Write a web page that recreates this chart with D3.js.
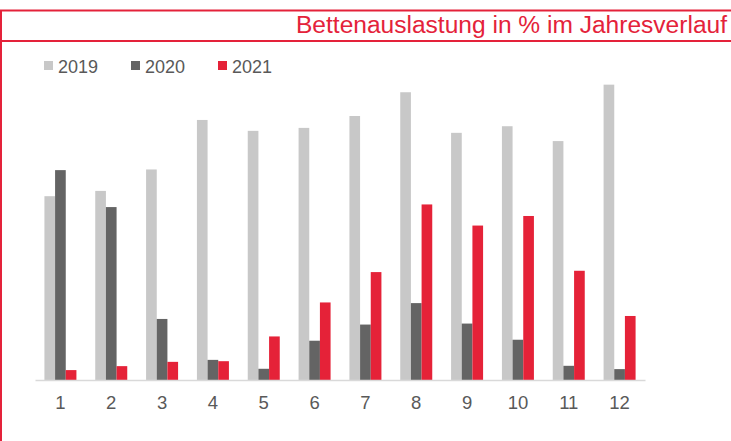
<!DOCTYPE html>
<html lang="de">
<head>
<meta charset="UTF-8">
<title>Bettenauslastung</title>
<script src="https://d3js.org/d3.v7.min.js"></script>
<style>
  html, body { margin: 0; padding: 0; background: #fff; }
  body { font-family: 'Liberation Sans', Arial, sans-serif; }
  svg { display: block; }
</style>
</head>
<body>
<div id="chart"></div>
<script>
// Monate und Werte (Bettenauslastung in %, aus dem Bild geschätzt)
const months = ["1", "2", "3", "4", "5", "6", "7", "8", "9", "10", "11", "12"];
const seriesNames = ["2019", "2020", "2021"];
const values2019 = [55.7, 57.3, 63.8, 78.8, 75.5, 76.4, 80.0, 87.2, 74.9, 76.9, 72.4, 89.5];
const values2020 = [63.6, 52.4, 18.5, 6.1, 3.4, 11.9, 16.8, 23.3, 17.1, 12.2, 4.3, 3.3];
const values2021 = [3.0, 4.2, 5.5, 5.7, 13.2, 23.5, 32.7, 53.2, 46.8, 49.7, 33.1, 19.4];
const colors = ["#c8c8c8", "#646464", "#e52238"];

const W = 731, H = 441;
const red = "#e4223a";
const svg = d3.select("#chart").append("svg").attr("width", W).attr("height", H);

// Rahmen: zwei rote Linien oben, eine links
svg.append("line").attr("x1", 0).attr("x2", W).attr("y1", 10.5).attr("y2", 10.5)
  .attr("stroke", red).attr("stroke-width", 2);
svg.append("line").attr("x1", 0).attr("x2", W).attr("y1", 41).attr("y2", 41)
  .attr("stroke", red).attr("stroke-width", 2);
svg.append("line").attr("x1", 1).attr("x2", 1).attr("y1", 10).attr("y2", H)
  .attr("stroke", red).attr("stroke-width", 2);

svg.append("text").attr("x", 727).attr("y", 33).attr("text-anchor", "end")
  .attr("fill", red).style("font-size", "23.5px")
  .attr("textLength", 431).attr("lengthAdjust", "spacingAndGlyphs")
  .text("Bettenauslastung in % im Jahresverlauf");

// Plot
const plotLeft = 35, plotRight = 645, plotBase = 380, plotTop = 50;
const x = d3.scaleBand().domain(months).range([plotLeft, plotRight]).paddingInner(0).paddingOuter(0);
const y = d3.scaleLinear().domain([0, 100]).range([plotBase, plotTop]);
const groupW = 32;
const x1 = d3.scaleBand().domain(seriesNames).range([0, groupW]);

const data = months.map((m, i) => ({
  month: m,
  vals: [values2019[i], values2020[i], values2021[i]]
}));

const groups = svg.append("g").selectAll("g").data(data).join("g")
  .attr("transform", d => `translate(${x(d.month) + (x.bandwidth() - groupW) / 2},0)`);

groups.selectAll("rect")
  .data(d => d.vals.map((v, k) => ({ name: seriesNames[k], v, k })))
  .join("rect")
  .attr("x", d => x1(d.name))
  .attr("width", x1.bandwidth())
  .attr("y", d => y(d.v))
  .attr("height", d => plotBase - y(d.v))
  .attr("fill", d => colors[d.k]);

// Achse
const xAxis = svg.append("g").attr("transform", `translate(0,${plotBase})`)
  .call(d3.axisBottom(x).tickSize(0).tickPadding(16));
xAxis.select(".domain").attr("stroke", "#d9d9d9").attr("stroke-width", 1.5);
xAxis.selectAll("text").attr("fill", "#595959")
  .style("font-size", "18.5px").style("font-family", "'Liberation Sans', Arial, sans-serif");

// Legende
const legendX = [44, 131, 218];
const legend = svg.append("g").selectAll("g").data(seriesNames).join("g")
  .attr("transform", (d, i) => `translate(${legendX[i]},61)`);
legend.append("rect").attr("width", 9).attr("height", 9).attr("fill", (d, i) => colors[i]);
legend.append("text").attr("x", 14).attr("y", 11.5).attr("fill", "#595959")
  .style("font-size", "18px").text(d => d);
</script>
</body>
</html>
